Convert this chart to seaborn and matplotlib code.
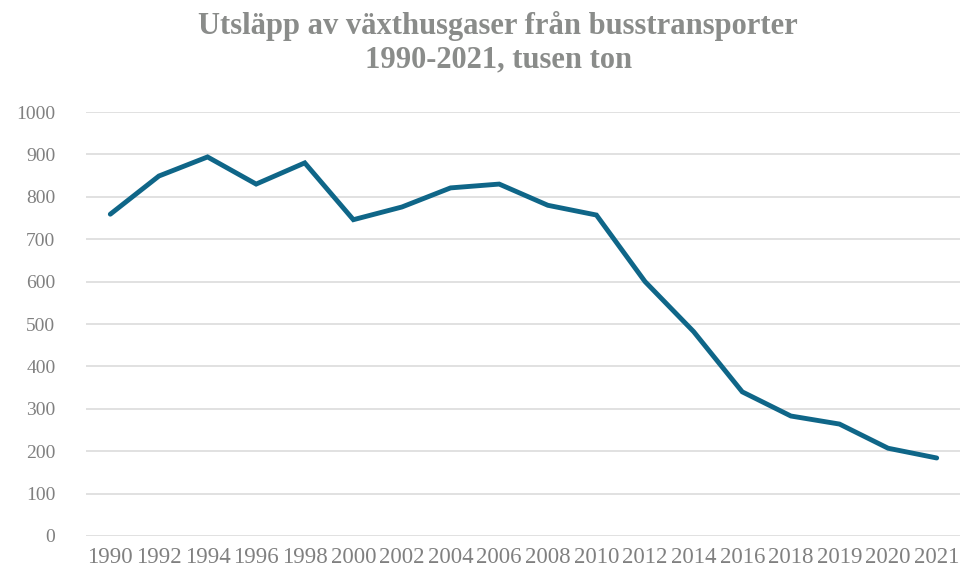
import matplotlib
matplotlib.use("Agg")
import matplotlib.pyplot as plt
import seaborn as sns
import pandas as pd

# Utsläpp av växthusgaser från busstransporter, tusen ton
years = ["1990", "1992", "1994", "1996", "1998", "2000", "2002", "2004", "2006",
         "2008", "2010", "2012", "2014", "2016", "2018", "2019", "2020", "2021"]
emissions = [759, 849, 894, 830, 880, 746, 776, 821, 830,
             780, 757, 600, 482, 340, 283, 264, 207, 184]
yticks = list(range(0, 1001, 100))

df = pd.DataFrame({"year": years, "value": emissions})

sns.set_theme(style="white")
plt.rcParams["font.family"] = ["Liberation Serif", "DejaVu Serif"]

fig = plt.figure(figsize=(9.6, 5.75), dpi=100)
ax = fig.add_axes([86 / 960, 1 - 536 / 575, 875 / 960, 424 / 575])

sns.lineplot(data=df, x="year", y="value", ax=ax, sort=False,
             color="#0f6688", linewidth=3.5, solid_joinstyle="miter",
             solid_capstyle="round")

ax.set_xlim(-0.5, len(years) - 0.5)
ax.set_ylim(0, 1000)
ax.set_yticks(yticks)
ax.yaxis.grid(True, color="#d9d9d9", linewidth=1.1)
ax.set_axisbelow(True)
for s in ax.spines.values():
    s.set_visible(False)
ax.set_xlabel("")
ax.set_ylabel("")
ax.tick_params(axis="y", length=0, pad=22, labelsize=14, labelcolor="#808080")
ax.tick_params(axis="x", length=0, pad=8, labelsize=16.5, labelcolor="#808080")

fig.text(0.519, 0.925, "Utsläpp av växthusgaser från busstransporter\n1990-2021, tusen ton",
         ha="center", va="center", fontsize=22, fontweight="bold",
         color="#8a8c8a", linespacing=1.2)

fig.savefig("out.png", dpi=100)
